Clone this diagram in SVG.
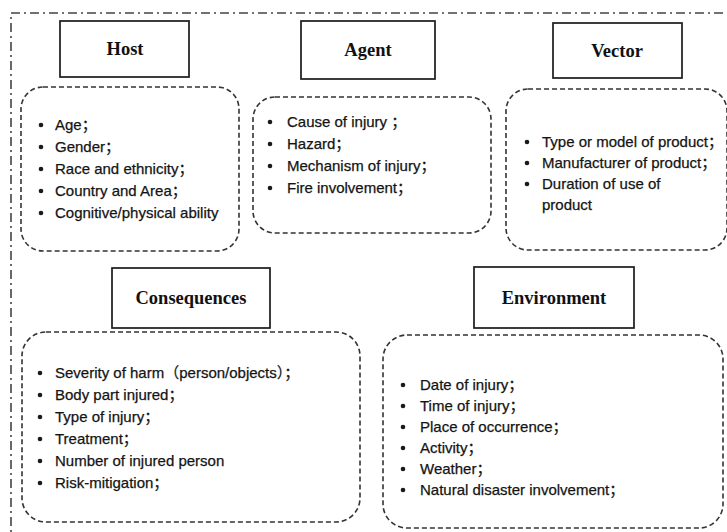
<svg xmlns="http://www.w3.org/2000/svg" width="727" height="532" viewBox="0 0 727 532">
<style>
.title{font-family:"Liberation Serif","Times New Roman",serif;font-weight:bold;font-size:18.5px;fill:#111;text-anchor:middle}
.tbox{fill:#fff;stroke:#1a1a1a;stroke-width:1.7}
.dbox{fill:none;stroke:#333;stroke-width:1.6;stroke-dasharray:5 3}
.item{font-family:"Liberation Sans","Noto Sans CJK SC",sans-serif;font-size:15px;fill:#141414;stroke:#141414;stroke-width:0.25}
.b{fill:#1a1a1a}
.outer{fill:none;stroke:#444;stroke-width:1.6;stroke-dasharray:9 4 2 4}
</style>
<rect width="727" height="532" fill="#fff"/>
<path class="outer" d="M11,545 V13 H740"/>

<g id="host">
<rect class="tbox" x="60" y="21" width="129" height="56"/>
<text class="title" x="125" y="55">Host</text>
<rect class="dbox" x="21" y="87" width="218" height="164" rx="22"/>
<circle class="b" cx="41" cy="125" r="2.3"/><text class="item" x="55" y="130">Age；</text>
<circle class="b" cx="41" cy="147" r="2.3"/><text class="item" x="55" y="152">Gender；</text>
<circle class="b" cx="41" cy="169" r="2.3"/><text class="item" x="55" y="174">Race and ethnicity；</text>
<circle class="b" cx="41" cy="191" r="2.3"/><text class="item" x="55" y="196">Country and Area；</text>
<circle class="b" cx="41" cy="213" r="2.3"/><text class="item" x="55" y="218">Cognitive/physical ability</text>
</g>

<g id="agent">
<rect class="tbox" x="301" y="21" width="134" height="58"/>
<text class="title" x="368" y="56">Agent</text>
<rect class="dbox" x="253" y="97" width="238" height="136" rx="22"/>
<circle class="b" cx="270" cy="122" r="2.3"/><text class="item" x="287" y="127">Cause of injury ；</text>
<circle class="b" cx="270" cy="144" r="2.3"/><text class="item" x="287" y="149">Hazard；</text>
<circle class="b" cx="270" cy="166" r="2.3"/><text class="item" x="287" y="171">Mechanism of injury；</text>
<circle class="b" cx="270" cy="188" r="2.3"/><text class="item" x="287" y="193">Fire involvement；</text>
</g>

<g id="vector">
<rect class="tbox" x="553" y="23" width="129" height="55"/>
<text class="title" x="617" y="57">Vector</text>
<rect class="dbox" x="506" y="89" width="221" height="161" rx="22"/>
<circle class="b" cx="527" cy="142" r="2.3"/><text class="item" x="542" y="147">Type or model of product；</text>
<circle class="b" cx="527" cy="163" r="2.3"/><text class="item" x="542" y="168">Manufacturer of product；</text>
<circle class="b" cx="527" cy="184" r="2.3"/><text class="item" x="542" y="189">Duration of use of</text>
<text class="item" x="542" y="210">product</text>
</g>

<g id="consequences">
<rect class="tbox" x="112" y="268" width="158" height="60"/>
<text class="title" x="191" y="304">Consequences</text>
<rect class="dbox" x="22" y="332" width="338" height="190" rx="24"/>
<circle class="b" cx="40" cy="373" r="2.3"/><text class="item" x="55" y="378">Severity of harm（person/objects）；</text>
<circle class="b" cx="40" cy="395" r="2.3"/><text class="item" x="55" y="400">Body part injured；</text>
<circle class="b" cx="40" cy="417" r="2.3"/><text class="item" x="55" y="422">Type of injury；</text>
<circle class="b" cx="40" cy="439" r="2.3"/><text class="item" x="55" y="444">Treatment；</text>
<circle class="b" cx="40" cy="461" r="2.3"/><text class="item" x="55" y="466">Number of injured person</text>
<circle class="b" cx="40" cy="483" r="2.3"/><text class="item" x="55" y="488">Risk-mitigation；</text>
</g>

<g id="environment">
<rect class="tbox" x="474" y="267" width="160" height="61"/>
<text class="title" x="554" y="304">Environment</text>
<rect class="dbox" x="383" y="335" width="340" height="193" rx="24"/>
<circle class="b" cx="403" cy="385" r="2.3"/><text class="item" x="420" y="390">Date of injury；</text>
<circle class="b" cx="403" cy="406" r="2.3"/><text class="item" x="420" y="411">Time of injury；</text>
<circle class="b" cx="403" cy="427" r="2.3"/><text class="item" x="420" y="432">Place of occurrence；</text>
<circle class="b" cx="403" cy="448" r="2.3"/><text class="item" x="420" y="453">Activity；</text>
<circle class="b" cx="403" cy="469" r="2.3"/><text class="item" x="420" y="474">Weather；</text>
<circle class="b" cx="403" cy="490" r="2.3"/><text class="item" x="420" y="495">Natural disaster involvement；</text>
</g>

<g id="connectors"></g>
</svg>
